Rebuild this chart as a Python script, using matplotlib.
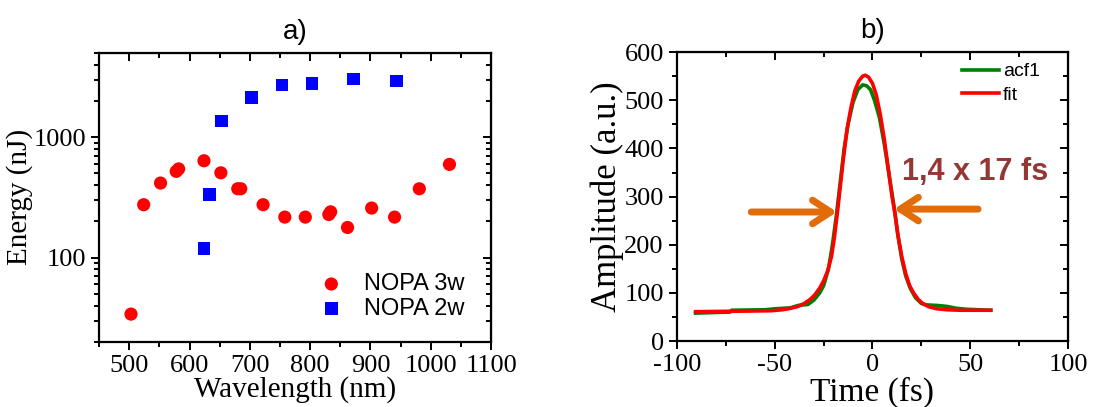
import matplotlib
matplotlib.use('Agg')
import matplotlib.pyplot as plt
from matplotlib.ticker import LogLocator, MultipleLocator, NullFormatter, FixedLocator, FixedFormatter

plt.rcParams['axes.unicode_minus'] = False

# ---- panel a) : NOPA pulse energy vs wavelength
wl_3w = [503, 524, 552, 578, 582, 624, 652, 680, 685, 722, 758, 792, 831, 834, 862, 902, 940, 981, 1031]
en_3w = [34, 275, 416, 520, 545, 637, 506, 373, 373, 275, 217, 217, 228, 240, 178, 258, 217, 373, 594]

wl_2w = [624, 633, 653, 703, 753, 803, 872, 943]
en_2w = [119, 333, 1357, 2132, 2716, 2786, 3025, 2911]

# ---- panel b) : autocorrelation and fit
t_acf = [-90.5, -75, -73, -72, -55, -50, -42, -38, -33, -30, -27, -25, -22.5, -20.5, -18.5,
         -16.5, -14.5, -12.5, -10, -7.5, -5, -3, -1, 1, 3.5, 6, 8.5, 11, 13, 15, 17, 19.5,
         22, 25, 28, 33, 38, 43, 48, 60.5]
y_acf = [58, 60, 60, 64, 65, 67, 69, 74, 76, 85, 100, 115, 150, 200, 260,
         330, 400, 450, 495, 522, 532, 530, 522, 500, 465, 410, 345, 280, 220, 170, 135, 108,
         90, 78, 75, 74, 72, 68, 66, 64]

t_fit = [-90.5, -80, -70, -60, -52, -46, -42, -38, -35, -32, -29.5, -27, -25, -23, -21,
         -19.5, -18, -16.5, -15, -13, -11, -9, -7, -5, -3.7, -2, 0, 2, 4, 6, 8, 10, 11.5,
         13, 15, 17, 19, 21, 23.5, 26, 29, 33, 38, 45, 60.5]
y_fit = [61, 61.5, 62, 62.5, 63, 65, 68, 72, 78, 86, 96, 110, 125, 145, 175,
         215, 265, 320, 375, 440, 485, 520, 540, 550, 552, 548, 535, 510, 470, 420, 360, 300, 265,
         220, 175, 140, 115, 100, 86, 77, 71, 67, 65, 64, 64]

serif = 'Liberation Serif'
sans = 'Liberation Sans'

fig = plt.figure(figsize=(10.93, 4.07), dpi=100)
ax1 = fig.add_axes([0.0906, 0.160, 0.3587, 0.710])
ax2 = fig.add_axes([0.6194, 0.162, 0.3577, 0.710])


def mirror(sec, which_in):
    # ticks without labels on the top/right side, pointing into the plot
    sec.tick_params(which='both', direction='in', width=1.4, **{which_in: False})
    sec.tick_params(which='major', length=6)
    sec.tick_params(which='minor', length=3.5)


def style_ticks(ax):
    # Origin-like: labelled ticks out on bottom/left
    for s in ax.spines.values():
        s.set_linewidth(1.6)
    ax.tick_params(which='both', direction='out', width=1.4, labelsize=19)
    ax.tick_params(which='major', length=6)
    ax.tick_params(which='minor', length=3.5)
    for lab in ax.get_xticklabels() + ax.get_yticklabels():
        lab.set_family(serif)


# ----- a)
ax1.scatter(wl_3w, en_3w, s=90, c='#ff0000', marker='o', edgecolors='none', label='NOPA 3w', zorder=3)
ax1.scatter(wl_2w, en_2w, s=80, c='#0000ff', marker='s', edgecolors='none', label='NOPA 2w', zorder=3)
ax1.set_yscale('log')
ax1.set_xlim(450, 1100)
ax1.set_ylim(20, 5000)
ax1.xaxis.set_major_locator(MultipleLocator(100))
ax1.xaxis.set_minor_locator(MultipleLocator(50))
ax1.yaxis.set_major_locator(FixedLocator([100, 1000]))
ax1.yaxis.set_major_formatter(FixedFormatter(['100', '1000']))
ax1.yaxis.set_minor_locator(LogLocator(base=10, subs=range(2, 10)))
ax1.yaxis.set_minor_formatter(NullFormatter())
style_ticks(ax1)
top = ax1.secondary_xaxis('top')
top.set_xticks(range(500, 1101, 100))
top.xaxis.set_minor_locator(MultipleLocator(50))
mirror(top, 'labeltop')
right = ax1.secondary_yaxis('right')
right.set_yscale('log')
right.yaxis.set_major_locator(FixedLocator([100, 1000]))
right.yaxis.set_minor_locator(LogLocator(base=10, subs=range(2, 10)))
mirror(right, 'labelright')
ax1.set_xlabel('Wavelength (nm)', family=serif, fontsize=21, labelpad=-1)
ax1.set_ylabel('Energy (nJ)', family=serif, fontsize=21, labelpad=0)
ax1.set_title('a)', family=sans, fontsize=20, pad=10)
ax1.legend(loc='lower right', frameon=False, prop={'family': sans, 'size': 17},
           handletextpad=0.4, borderaxespad=0.3, labelspacing=0.1,
           bbox_to_anchor=(0.975, 0.02))

# ----- b)
ax2.plot(t_acf, y_acf, color='#008000', lw=2.6, label='acf1', zorder=3)
ax2.plot(t_fit, y_fit, color='#ff0000', lw=2.6, label='fit', zorder=4)
ax2.set_xlim(-100, 100)
ax2.set_ylim(0, 600)
ax2.xaxis.set_major_locator(MultipleLocator(50))
ax2.xaxis.set_minor_locator(MultipleLocator(25))
ax2.yaxis.set_major_locator(MultipleLocator(100))
ax2.yaxis.set_minor_locator(MultipleLocator(50))
style_ticks(ax2)
top = ax2.secondary_xaxis('top')
top.xaxis.set_major_locator(MultipleLocator(50))
top.xaxis.set_minor_locator(MultipleLocator(25))
mirror(top, 'labeltop')
right = ax2.secondary_yaxis('right')
right.yaxis.set_major_locator(MultipleLocator(100))
right.yaxis.set_minor_locator(MultipleLocator(50))
mirror(right, 'labelright')
ax2.set_xlabel('Time (fs)', family=serif, fontsize=24, labelpad=0)
ax2.set_ylabel('Amplitude (a.u.)', family=serif, fontsize=25, labelpad=0)
ax2.set_title('b)', family=sans, fontsize=20, pad=10)
ax2.legend(loc='upper right', frameon=False, prop={'family': sans, 'size': 14},
           handlelength=1.9, handletextpad=0.2, borderaxespad=0.15, labelspacing=0.3,
           bbox_to_anchor=(0.955, 1.0))

arrow_color = '#e36c0a'
arrow_style = '->,head_length=1.3,head_width=0.85'
ax2.annotate('', xy=(-18.2, 268), xytext=(-62, 268),
             arrowprops=dict(arrowstyle=arrow_style, color=arrow_color, lw=5,
                             capstyle='round', joinstyle='round', shrinkA=0, shrinkB=0),
             zorder=5)
ax2.annotate('', xy=(11, 274), xytext=(54, 274),
             arrowprops=dict(arrowstyle=arrow_style, color=arrow_color, lw=5,
                             capstyle='round', joinstyle='round', shrinkA=0, shrinkB=0),
             zorder=5)
ax2.text(15, 352, '1,4 x 17 fs', family=sans, fontsize=22, fontweight='bold',
         color='#953735', va='center', ha='left')

fig.savefig('out.png', dpi=100)
